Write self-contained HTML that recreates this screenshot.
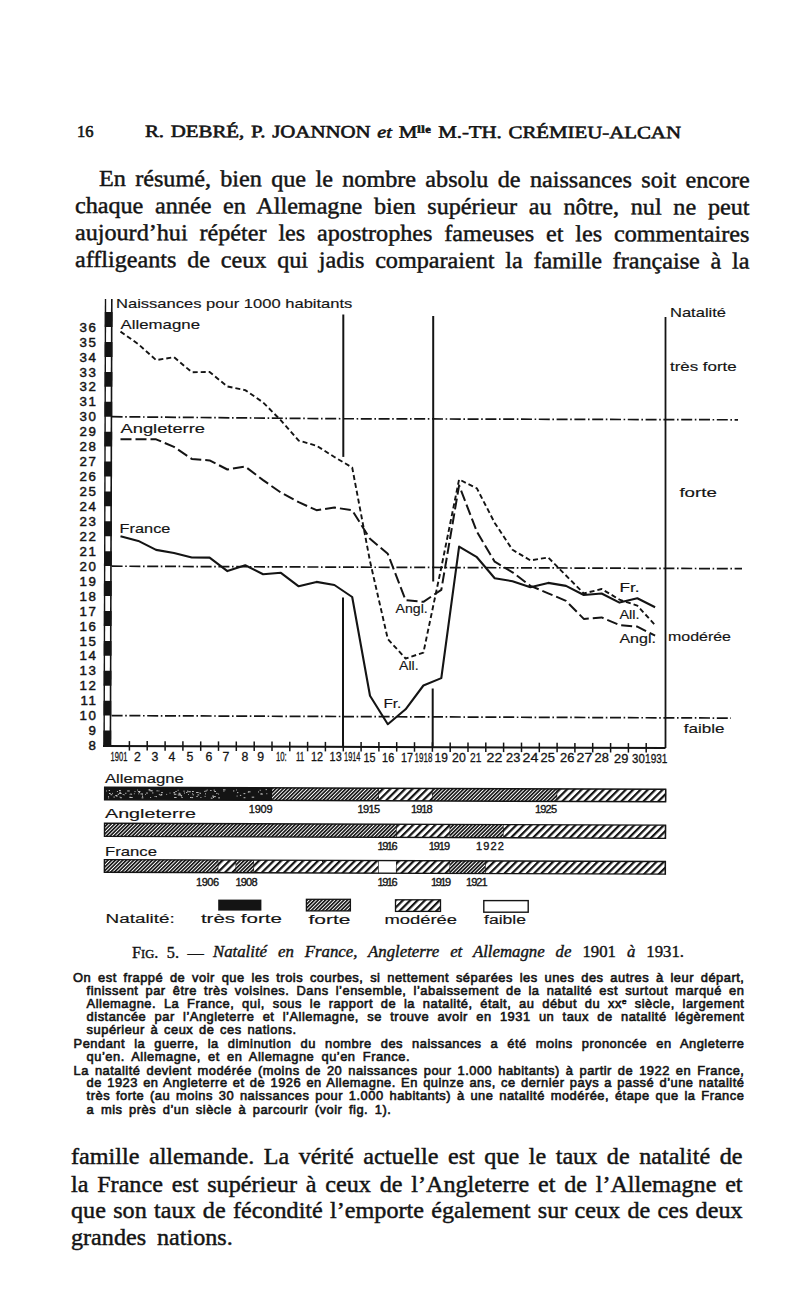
<!DOCTYPE html>
<html><head><meta charset="utf-8"><title>Natalité</title><style>
html,body{margin:0;padding:0;background:#fff;}
body{width:800px;height:1304px;overflow:hidden;position:relative;}
.ln{position:absolute;color:#141414;white-space:nowrap;transform-origin:0 0;}
.serif{font-family:"Liberation Serif",serif;}
.sans{font-family:"Liberation Sans",sans-serif;}
.j{text-align:justify;text-align-last:justify;white-space:normal;overflow:visible;height:1em;}
.hd{font-weight:normal;-webkit-text-stroke:0.6px #141414;}
.hd .sm{font-size:17px;}
.hd sup{font-size:10.5px;vertical-align:baseline;position:relative;top:-5px;font-weight:bold;line-height:0;letter-spacing:0.5px;}
.body{-webkit-text-stroke:0.45px #141414;}
.small{font-weight:normal;-webkit-text-stroke:0.6px #141414;}
.cap{-webkit-text-stroke:0.4px #141414;}
.small sup{font-size:8px;vertical-align:baseline;position:relative;top:-4px;line-height:0;}
svg text{font-family:"Liberation Sans",sans-serif;fill:#141414;}
svg .yl{font-size:13.3px;letter-spacing:1.6px;stroke:#141414;stroke-width:0.45px;}
svg .xl{font-size:12.3px;stroke:#141414;stroke-width:0.3px;}
svg .cl{font-size:13px;stroke:#141414;stroke-width:0.15px;}
svg .bl{font-size:13px;stroke:#141414;stroke-width:0.15px;}
svg .bn{font-size:11px;stroke:#141414;stroke-width:0.35px;}
svg .lg{font-size:12.5px;stroke:#141414;stroke-width:0.15px;}
</style></head>
<body>
<div class="ln serif nj hd" style="left:77px;top:123.68px;width:16.0px;font-size:16.5px;line-height:16.5px;"><span style="letter-spacing:0">16</span></div>
<div class="ln serif j hd" style="left:145px;top:123.34px;width:450.4px;font-size:17.5px;line-height:17.5px;transform:rotate(0.15deg) scaleX(1.19);">R. DEBRÉ, P. JOANNON <i class="sm">et</i> M<sup>lle</sup> M.-TH. CRÉMIEU-ALCAN</div>
<div class="ln serif j body" style="left:98.6px;top:166.74px;width:619.9px;font-size:23px;line-height:23px;transform:rotate(0.14deg) scaleX(1.05);">En résumé, bien que le nombre absolu de naissances soit encore</div>
<div class="ln serif j body" style="left:75.0px;top:193.84px;width:642.4px;font-size:23px;line-height:23px;transform:rotate(0.14deg) scaleX(1.05);">chaque année en Allemagne bien supérieur au nôtre, nul ne peut</div>
<div class="ln serif j body" style="left:75.0px;top:220.74px;width:642.4px;font-size:23px;line-height:23px;transform:rotate(0.14deg) scaleX(1.05);">aujourd’hui répéter les apostrophes fameuses et les commentaires</div>
<div class="ln serif j body" style="left:75.0px;top:247.64px;width:642.4px;font-size:23px;line-height:23px;transform:rotate(0.14deg) scaleX(1.05);">affligeants de ceux qui jadis comparaient la famille française à la</div>
<div class="ln serif j cap" style="left:132px;top:944.65px;width:71.8px;font-size:16.3px;line-height:16.3px;">F<span style="font-size:12.5px">IG</span>. 5. —</div>
<div class="ln serif j cap" style="left:213px;top:944.35px;width:457.3px;font-size:16.3px;line-height:16.3px;transform:scaleX(1.03);"><i>Natalité en France, Angleterre et Allemagne de</i> 1901 <i>à</i> 1931.</div>
<div class="ln sans j small" style="left:73.1px;top:971.78px;width:671.3px;font-size:12.9px;line-height:12.9px;letter-spacing:0.5px;">On est frappé de voir que les trois courbes, si nettement séparées les unes des autres à leur départ,</div>
<div class="ln sans j small" style="left:86.6px;top:984.68px;width:657.8px;font-size:12.9px;line-height:12.9px;letter-spacing:0.5px;">finissent par être très voisines. Dans l’ensemble, l’abaissement de la natalité est surtout marqué en</div>
<div class="ln sans j small" style="left:86.6px;top:997.78px;width:657.8px;font-size:12.9px;line-height:12.9px;letter-spacing:0.5px;">Allemagne. La France, qui, sous le rapport de la natalité, était, au début du xx<sup>e</sup> siècle, largement</div>
<div class="ln sans j small" style="left:86.6px;top:1010.88px;width:657.8px;font-size:12.9px;line-height:12.9px;letter-spacing:0.5px;">distancée par l’Angleterre et l’Allemagne, se trouve avoir en 1931 un taux de natalité légèrement</div>
<div class="ln sans j small" style="left:86.6px;top:1023.98px;width:210.0px;font-size:12.9px;line-height:12.9px;letter-spacing:0.5px;">supérieur à ceux de ces nations.</div>
<div class="ln sans j small" style="left:73.6px;top:1037.88px;width:670.8px;font-size:12.9px;line-height:12.9px;letter-spacing:0.5px;">Pendant la guerre, la diminution du nombre des naissances a été moins prononcée en Angleterre</div>
<div class="ln sans j small" style="left:86.6px;top:1050.98px;width:323.4px;font-size:12.9px;line-height:12.9px;letter-spacing:0.5px;">qu’en. Allemagne, et en Allemagne qu’en France.</div>
<div class="ln sans j small" style="left:73.6px;top:1064.78px;width:670.8px;font-size:12.9px;line-height:12.9px;letter-spacing:0.5px;">La natalité devient modérée (moins de 20 naissances pour 1.000 habitants) à partir de 1922 en France,</div>
<div class="ln sans j small" style="left:86.6px;top:1077.38px;width:657.8px;font-size:12.9px;line-height:12.9px;letter-spacing:0.5px;">de 1923 en Angleterre et de 1926 en Allemagne. En quinze ans, ce dernier pays a passé d’une natalité</div>
<div class="ln sans j small" style="left:86.6px;top:1090.48px;width:657.8px;font-size:12.9px;line-height:12.9px;letter-spacing:0.5px;">très forte (au moins 30 naissances pour 1.000 habitants) à une natalité modérée, étape que la France</div>
<div class="ln sans j small" style="left:86.6px;top:1104.28px;width:304.8px;font-size:12.9px;line-height:12.9px;letter-spacing:0.5px;">a mis près d’un siècle à parcourir (voir fig. 1).</div>
<div class="ln serif j body" style="left:71.0px;top:1145.44px;width:639.6px;font-size:23px;line-height:23px;transform:scaleX(1.05);">famille allemande. La vérité actuelle est que le taux de natalité de</div>
<div class="ln serif j body" style="left:71.0px;top:1172.54px;width:639.6px;font-size:23px;line-height:23px;transform:scaleX(1.05);">la France est supérieur à ceux de l’Angleterre et de l’Allemagne et</div>
<div class="ln serif j body" style="left:71.0px;top:1199.04px;width:639.6px;font-size:23px;line-height:23px;transform:scaleX(1.05);">que son taux de fécondité l’emporte également sur ceux de ces deux</div>
<div class="ln serif j body" style="left:71.0px;top:1225.54px;width:154.1px;font-size:23px;line-height:23px;transform:scaleX(1.05);">grandes nations.</div>
<svg width="800" height="1304" viewBox="0 0 800 1304" style="position:absolute;left:0;top:0"><defs>
<pattern id="pf" patternUnits="userSpaceOnUse" width="2.6" height="2.6" patternTransform="rotate(45)">
<rect width="2.6" height="2.6" fill="#fff"/><rect width="1.65" height="2.6" fill="#141414"/></pattern>
<pattern id="pm" patternUnits="userSpaceOnUse" width="5.2" height="5.2" patternTransform="rotate(45)">
<rect width="5.2" height="5.2" fill="#fff"/><rect width="2.2" height="5.2" fill="#141414"/></pattern>
</defs><g transform="rotate(0.18 107 745.5)">
<line x1="104.10000000000001" y1="299.0" x2="104.10000000000001" y2="746.5" stroke="#141414" stroke-width="1.4"/>
<line x1="110.4" y1="299.0" x2="110.4" y2="746.5" stroke="#141414" stroke-width="1.6"/>
<rect x="103.4" y="730.6" width="7.8" height="14.9" fill="#141414"/>
<rect x="103.4" y="700.7" width="7.8" height="14.9" fill="#141414"/>
<rect x="103.4" y="670.8" width="7.8" height="14.9" fill="#141414"/>
<rect x="103.4" y="640.9" width="7.8" height="14.9" fill="#141414"/>
<rect x="103.4" y="611.0" width="7.8" height="14.9" fill="#141414"/>
<rect x="103.4" y="581.1" width="7.8" height="14.9" fill="#141414"/>
<rect x="103.4" y="551.2" width="7.8" height="14.9" fill="#141414"/>
<rect x="103.4" y="521.3" width="7.8" height="14.9" fill="#141414"/>
<rect x="103.4" y="491.4" width="7.8" height="14.9" fill="#141414"/>
<rect x="103.4" y="461.5" width="7.8" height="14.9" fill="#141414"/>
<rect x="103.4" y="431.7" width="7.8" height="14.9" fill="#141414"/>
<rect x="103.4" y="401.8" width="7.8" height="14.9" fill="#141414"/>
<rect x="103.4" y="371.9" width="7.8" height="14.9" fill="#141414"/>
<rect x="103.4" y="342.0" width="7.8" height="14.9" fill="#141414"/>
<rect x="103.4" y="312.1" width="7.8" height="14.9" fill="#141414"/>
</g>
<text x="97.6" y="750.1" text-anchor="end" class="yl">8</text>
<text x="97.6" y="735.2" text-anchor="end" class="yl">9</text>
<text x="97.6" y="720.2" text-anchor="end" class="yl">10</text>
<text x="97.6" y="705.3" text-anchor="end" class="yl">11</text>
<text x="97.6" y="690.3" text-anchor="end" class="yl">12</text>
<text x="97.6" y="675.4" text-anchor="end" class="yl">13</text>
<text x="97.6" y="660.4" text-anchor="end" class="yl">14</text>
<text x="97.6" y="645.5" text-anchor="end" class="yl">15</text>
<text x="97.6" y="630.5" text-anchor="end" class="yl">16</text>
<text x="97.6" y="615.6" text-anchor="end" class="yl">17</text>
<text x="97.6" y="600.6" text-anchor="end" class="yl">18</text>
<text x="97.6" y="585.7" text-anchor="end" class="yl">19</text>
<text x="97.6" y="570.8" text-anchor="end" class="yl">20</text>
<text x="97.6" y="555.8" text-anchor="end" class="yl">21</text>
<text x="97.6" y="540.9" text-anchor="end" class="yl">22</text>
<text x="97.6" y="525.9" text-anchor="end" class="yl">23</text>
<text x="97.6" y="511.0" text-anchor="end" class="yl">24</text>
<text x="97.6" y="496.0" text-anchor="end" class="yl">25</text>
<text x="97.6" y="481.1" text-anchor="end" class="yl">26</text>
<text x="97.6" y="466.1" text-anchor="end" class="yl">27</text>
<text x="97.6" y="451.2" text-anchor="end" class="yl">28</text>
<text x="97.6" y="436.3" text-anchor="end" class="yl">29</text>
<text x="97.6" y="421.3" text-anchor="end" class="yl">30</text>
<text x="97.6" y="406.4" text-anchor="end" class="yl">31</text>
<text x="97.6" y="391.4" text-anchor="end" class="yl">32</text>
<text x="97.6" y="376.5" text-anchor="end" class="yl">33</text>
<text x="97.6" y="361.5" text-anchor="end" class="yl">34</text>
<text x="97.6" y="346.6" text-anchor="end" class="yl">35</text>
<text x="97.6" y="331.6" text-anchor="end" class="yl">36</text>
<polyline points="103.0,745.9 665.5,748.1" fill="none" stroke="#141414" stroke-width="2"/>
<line x1="129.4" y1="741.1" x2="129.4" y2="750.6" stroke="#141414" stroke-width="1.5"/>
<line x1="147.2" y1="741.1" x2="147.2" y2="750.6" stroke="#141414" stroke-width="1.5"/>
<line x1="165.1" y1="741.2" x2="165.1" y2="750.7" stroke="#141414" stroke-width="1.5"/>
<line x1="182.9" y1="741.3" x2="182.9" y2="750.8" stroke="#141414" stroke-width="1.5"/>
<line x1="200.7" y1="741.4" x2="200.7" y2="750.9" stroke="#141414" stroke-width="1.5"/>
<line x1="218.5" y1="741.4" x2="218.5" y2="750.9" stroke="#141414" stroke-width="1.5"/>
<line x1="236.3" y1="741.5" x2="236.3" y2="751.0" stroke="#141414" stroke-width="1.5"/>
<line x1="254.2" y1="741.6" x2="254.2" y2="751.1" stroke="#141414" stroke-width="1.5"/>
<line x1="272.0" y1="741.6" x2="272.0" y2="751.1" stroke="#141414" stroke-width="1.5"/>
<line x1="289.8" y1="741.7" x2="289.8" y2="751.2" stroke="#141414" stroke-width="1.5"/>
<line x1="307.6" y1="741.8" x2="307.6" y2="751.3" stroke="#141414" stroke-width="1.5"/>
<line x1="325.4" y1="741.9" x2="325.4" y2="751.4" stroke="#141414" stroke-width="1.5"/>
<line x1="343.3" y1="741.9" x2="343.3" y2="751.4" stroke="#141414" stroke-width="1.5"/>
<line x1="361.1" y1="742.0" x2="361.1" y2="751.5" stroke="#141414" stroke-width="1.5"/>
<line x1="378.9" y1="742.1" x2="378.9" y2="751.6" stroke="#141414" stroke-width="1.5"/>
<line x1="396.7" y1="742.1" x2="396.7" y2="751.6" stroke="#141414" stroke-width="1.5"/>
<line x1="414.5" y1="742.2" x2="414.5" y2="751.7" stroke="#141414" stroke-width="1.5"/>
<line x1="432.4" y1="742.3" x2="432.4" y2="751.8" stroke="#141414" stroke-width="1.5"/>
<line x1="450.2" y1="742.4" x2="450.2" y2="751.9" stroke="#141414" stroke-width="1.5"/>
<line x1="468.0" y1="742.4" x2="468.0" y2="751.9" stroke="#141414" stroke-width="1.5"/>
<line x1="485.8" y1="742.5" x2="485.8" y2="752.0" stroke="#141414" stroke-width="1.5"/>
<line x1="503.6" y1="742.6" x2="503.6" y2="752.1" stroke="#141414" stroke-width="1.5"/>
<line x1="521.5" y1="742.6" x2="521.5" y2="752.1" stroke="#141414" stroke-width="1.5"/>
<line x1="539.3" y1="742.7" x2="539.3" y2="752.2" stroke="#141414" stroke-width="1.5"/>
<line x1="557.1" y1="742.8" x2="557.1" y2="752.3" stroke="#141414" stroke-width="1.5"/>
<line x1="574.9" y1="742.9" x2="574.9" y2="752.4" stroke="#141414" stroke-width="1.5"/>
<line x1="592.7" y1="742.9" x2="592.7" y2="752.4" stroke="#141414" stroke-width="1.5"/>
<line x1="610.6" y1="743.0" x2="610.6" y2="752.5" stroke="#141414" stroke-width="1.5"/>
<line x1="628.4" y1="743.1" x2="628.4" y2="752.6" stroke="#141414" stroke-width="1.5"/>
<line x1="646.2" y1="743.1" x2="646.2" y2="752.6" stroke="#141414" stroke-width="1.5"/>
<polyline points="665.5,317.0 665.5,748.1" fill="none" stroke="#141414" stroke-width="1.8"/>
<polyline points="343.3,314.5 343.3,456.9" fill="none" stroke="#141414" stroke-width="2"/>
<polyline points="343.0,597.5 343.0,746.4" fill="none" stroke="#141414" stroke-width="2"/>
<polyline points="433.2,316.0 433.2,581.5" fill="none" stroke="#141414" stroke-width="2"/>
<polyline points="432.7,688.5 432.7,746.8" fill="none" stroke="#141414" stroke-width="2"/>
<polyline points="111.6,416.7 330,418.7 738,419.8" fill="none" stroke="#141414" stroke-width="1.7" stroke-dasharray="11 2.6 1.6 2.6"/>
<polyline points="111.6,566.2 742.0,568.7" fill="none" stroke="#141414" stroke-width="1.7" stroke-dasharray="11 2.6 1.6 2.6"/>
<polyline points="111.6,715.6 731.0,718.1" fill="none" stroke="#141414" stroke-width="1.7" stroke-dasharray="11 2.6 1.6 2.6"/>
<polyline points="120.5,536.3 138.3,540.9 156.1,549.9 174.0,553.0 191.8,557.5 209.6,557.6 227.4,571.1 245.2,565.2 263.1,574.2 280.9,572.8 298.7,586.3 316.5,581.9 334.4,585.0 352.2,597.0 370.0,695.7 387.8,724.2 405.6,709.3 423.4,685.5 441.3,678.1 459.1,546.6 476.9,557.2 494.7,578.2 512.5,581.2 530.4,587.3 548.2,582.9 566.0,585.9 583.8,595.0 601.6,593.5 619.5,602.6 637.3,598.2 655.1,607.2" fill="none" stroke="#141414" stroke-width="2.1" stroke-linejoin="round"/>
<polyline points="120.5,439.2 138.3,439.2 156.1,439.3 174.0,446.9 191.8,458.9 209.6,460.4 227.4,469.5 245.2,466.6 263.1,480.1 280.9,492.6 298.7,502.2 316.5,510.2 334.4,507.5 352.2,510.3 370.0,538.8 387.8,553.8 405.6,600.2 423.4,601.8 441.3,589.9 459.1,485.4 476.9,531.8 494.7,561.7 512.5,572.3 530.4,585.8 548.2,593.3 566.0,600.9 583.8,618.9 601.6,617.4 619.5,625.0 637.3,626.6 655.1,635.6" fill="none" stroke="#141414" stroke-width="2.0" stroke-linejoin="round" stroke-dasharray="11 4"/>
<polyline points="120.5,331.6 138.3,344.1 156.1,360.1 174.0,357.2 191.8,372.2 209.6,372.0 227.4,386.5 245.2,390.1 263.1,402.4 280.9,420.4 298.7,440.6 316.5,445.7 334.4,457.0 352.2,467.5 370.0,561.2 387.8,639.0 405.6,658.5 423.4,652.6 441.3,567.5 459.1,479.4 476.9,488.4 494.7,522.9 512.5,549.8 530.4,560.4 548.2,557.5 566.0,575.5 583.8,593.5 601.6,589.0 619.5,599.6 637.3,605.6 655.1,625.1" fill="none" stroke="#141414" stroke-width="1.9" stroke-linejoin="round" stroke-dasharray="5 3"/>
<text x="110.6" y="760.5" class="xl" textLength="16.8" lengthAdjust="spacingAndGlyphs">1901</text>
<text x="137.5" y="760.6" text-anchor="middle" class="xl">2</text>
<text x="155.0" y="760.7" text-anchor="middle" class="xl">3</text>
<text x="172.0" y="760.7" text-anchor="middle" class="xl">4</text>
<text x="190.0" y="760.8" text-anchor="middle" class="xl">5</text>
<text x="209.0" y="760.9" text-anchor="middle" class="xl">6</text>
<text x="226.0" y="760.9" text-anchor="middle" class="xl">7</text>
<text x="245.0" y="761.0" text-anchor="middle" class="xl">8</text>
<text x="260.6" y="761.1" text-anchor="middle" class="xl">9</text>
<text x="275.9" y="761.2" class="xl" textLength="10.8" lengthAdjust="spacingAndGlyphs">10:</text>
<text x="295.9" y="761.2" class="xl" textLength="8.3" lengthAdjust="spacingAndGlyphs">11</text>
<text x="310.9" y="761.3" class="xl" textLength="12.0" lengthAdjust="spacingAndGlyphs">12</text>
<text x="329.6" y="761.4" class="xl" textLength="12.1" lengthAdjust="spacingAndGlyphs">13</text>
<text x="344.1" y="761.4" class="xl" textLength="16.3" lengthAdjust="spacingAndGlyphs">1914</text>
<text x="363.4" y="761.5" class="xl" textLength="12.0" lengthAdjust="spacingAndGlyphs">15</text>
<text x="382.1" y="761.6" class="xl" textLength="12.1" lengthAdjust="spacingAndGlyphs">16</text>
<text x="400.9" y="761.7" class="xl" textLength="12.0" lengthAdjust="spacingAndGlyphs">17</text>
<text x="414.6" y="761.7" class="xl" textLength="17.8" lengthAdjust="spacingAndGlyphs">1918</text>
<text x="434.6" y="761.8" class="xl" textLength="13.3" lengthAdjust="spacingAndGlyphs">19</text>
<text x="452.1" y="761.9" class="xl" textLength="13.7" lengthAdjust="spacingAndGlyphs">20</text>
<text x="470.1" y="761.9" class="xl" textLength="11.3" lengthAdjust="spacingAndGlyphs">21</text>
<text x="486.6" y="762.0" class="xl" textLength="15.8" lengthAdjust="spacingAndGlyphs">22</text>
<text x="506.1" y="762.1" class="xl" textLength="14.3" lengthAdjust="spacingAndGlyphs">23</text>
<text x="522.6" y="762.2" class="xl" textLength="15.8" lengthAdjust="spacingAndGlyphs">24</text>
<text x="540.6" y="762.2" class="xl" textLength="14.3" lengthAdjust="spacingAndGlyphs">25</text>
<text x="560.1" y="762.3" class="xl" textLength="14.3" lengthAdjust="spacingAndGlyphs">26</text>
<text x="576.6" y="762.4" class="xl" textLength="15.8" lengthAdjust="spacingAndGlyphs">27</text>
<text x="594.6" y="762.4" class="xl" textLength="14.3" lengthAdjust="spacingAndGlyphs">28</text>
<text x="614.1" y="762.5" class="xl" textLength="14.3" lengthAdjust="spacingAndGlyphs">29</text>
<text x="632.1" y="762.6" class="xl" textLength="12.8" lengthAdjust="spacingAndGlyphs">30</text>
<text x="645.1" y="762.6" class="xl" textLength="22.3" lengthAdjust="spacingAndGlyphs">1931</text>
<text x="116" y="307.8" class="cl" textLength="236.4" lengthAdjust="spacingAndGlyphs">Naissances pour 1000 habitants</text>
<text x="120.6" y="328.8" class="cl" textLength="79.4" lengthAdjust="spacingAndGlyphs">Allemagne</text>
<text x="120.5" y="433" class="cl" textLength="84.5" lengthAdjust="spacingAndGlyphs">Angleterre</text>
<text x="119.6" y="533.2" class="cl" textLength="50.8" lengthAdjust="spacingAndGlyphs">France</text>
<text x="670" y="317" class="cl" textLength="56.0" lengthAdjust="spacingAndGlyphs">Natalité</text>
<text x="670" y="371" class="cl" textLength="66.7" lengthAdjust="spacingAndGlyphs">très forte</text>
<text x="679.4" y="497.4" class="cl" textLength="37.4" lengthAdjust="spacingAndGlyphs">forte</text>
<text x="668" y="641.3" class="cl" textLength="63.0" lengthAdjust="spacingAndGlyphs">modérée</text>
<text x="683.8" y="732.8" class="cl" textLength="40.7" lengthAdjust="spacingAndGlyphs">faible</text>
<text x="619.4" y="592" class="cl" textLength="20.1" lengthAdjust="spacingAndGlyphs">Fr.</text>
<text x="619.4" y="619" class="cl" textLength="20.1" lengthAdjust="spacingAndGlyphs">All.</text>
<text x="619.4" y="643" class="cl" textLength="36.6" lengthAdjust="spacingAndGlyphs">Angl.</text>
<text x="395.6" y="612.5" class="cl" textLength="32.2" lengthAdjust="spacingAndGlyphs">Angl.</text>
<text x="399" y="670" class="cl" textLength="19.6" lengthAdjust="spacingAndGlyphs">All.</text>
<text x="383.4" y="708" class="cl" textLength="17.9" lengthAdjust="spacingAndGlyphs">Fr.</text>
<g transform="rotate(0.2 110 830)">
<rect x="104.5" y="787.3" width="167.5" height="12.5" fill="#141414"/>
<line x1="272.0" y1="787.3" x2="272.0" y2="799.8" stroke="#141414" stroke-width="1.2"/>
<rect x="272.0" y="787.3" width="106.9" height="12.5" fill="url(#pf)"/>
<line x1="378.9" y1="787.3" x2="378.9" y2="799.8" stroke="#141414" stroke-width="1.2"/>
<rect x="378.9" y="787.3" width="53.5" height="12.5" fill="url(#pm)"/>
<line x1="432.4" y1="787.3" x2="432.4" y2="799.8" stroke="#141414" stroke-width="1.2"/>
<rect x="432.4" y="787.3" width="124.7" height="12.5" fill="url(#pf)"/>
<line x1="557.1" y1="787.3" x2="557.1" y2="799.8" stroke="#141414" stroke-width="1.2"/>
<rect x="557.1" y="787.3" width="108.4" height="12.5" fill="url(#pm)"/>
<line x1="665.5" y1="787.3" x2="665.5" y2="799.8" stroke="#141414" stroke-width="1.2"/>
<rect x="104.5" y="787.3" width="561.0" height="12.5" fill="none" stroke="#141414" stroke-width="1.4"/>
<rect x="104.5" y="823.2" width="292.2" height="13.199999999999932" fill="url(#pf)"/>
<line x1="396.7" y1="823.2" x2="396.7" y2="836.4" stroke="#141414" stroke-width="1.2"/>
<rect x="396.7" y="823.2" width="53.5" height="13.199999999999932" fill="url(#pm)"/>
<line x1="450.2" y1="823.2" x2="450.2" y2="836.4" stroke="#141414" stroke-width="1.2"/>
<rect x="450.2" y="823.2" width="53.5" height="13.199999999999932" fill="url(#pf)"/>
<line x1="503.6" y1="823.2" x2="503.6" y2="836.4" stroke="#141414" stroke-width="1.2"/>
<rect x="503.6" y="823.2" width="161.9" height="13.199999999999932" fill="url(#pm)"/>
<line x1="665.5" y1="823.2" x2="665.5" y2="836.4" stroke="#141414" stroke-width="1.2"/>
<rect x="104.5" y="823.2" width="561.0" height="13.199999999999932" fill="none" stroke="#141414" stroke-width="1.4"/>
<rect x="104.5" y="859.6" width="114.0" height="12.600000000000023" fill="url(#pf)"/>
<line x1="218.5" y1="859.6" x2="218.5" y2="872.2" stroke="#141414" stroke-width="1.2"/>
<rect x="218.5" y="859.6" width="17.8" height="12.600000000000023" fill="url(#pm)"/>
<line x1="236.3" y1="859.6" x2="236.3" y2="872.2" stroke="#141414" stroke-width="1.2"/>
<rect x="236.3" y="859.6" width="17.8" height="12.600000000000023" fill="url(#pf)"/>
<line x1="254.2" y1="859.6" x2="254.2" y2="872.2" stroke="#141414" stroke-width="1.2"/>
<rect x="254.2" y="859.6" width="124.7" height="12.600000000000023" fill="url(#pm)"/>
<line x1="378.9" y1="859.6" x2="378.9" y2="872.2" stroke="#141414" stroke-width="1.2"/>
<rect x="378.9" y="859.6" width="17.8" height="12.600000000000023" fill="#fff"/>
<line x1="396.7" y1="859.6" x2="396.7" y2="872.2" stroke="#141414" stroke-width="1.2"/>
<rect x="396.7" y="859.6" width="53.5" height="12.600000000000023" fill="url(#pm)"/>
<line x1="450.2" y1="859.6" x2="450.2" y2="872.2" stroke="#141414" stroke-width="1.2"/>
<rect x="450.2" y="859.6" width="35.6" height="12.600000000000023" fill="url(#pf)"/>
<line x1="485.8" y1="859.6" x2="485.8" y2="872.2" stroke="#141414" stroke-width="1.2"/>
<rect x="485.8" y="859.6" width="179.7" height="12.600000000000023" fill="url(#pm)"/>
<line x1="665.5" y1="859.6" x2="665.5" y2="872.2" stroke="#141414" stroke-width="1.2"/>
<rect x="104.5" y="859.6" width="561.0" height="12.600000000000023" fill="none" stroke="#141414" stroke-width="1.4"/>
</g>
<g fill="#fff" opacity="0.8"><rect x="158.5" y="790.5" width="0.8" height="0.9"/><rect x="117.7" y="793.8" width="1.3" height="0.9"/><rect x="200.4" y="797.0" width="1.0" height="0.9"/><rect x="112.1" y="792.9" width="0.8" height="0.9"/><rect x="145.0" y="793.9" width="0.8" height="0.9"/><rect x="142.2" y="794.6" width="0.8" height="0.9"/><rect x="199.5" y="792.6" width="1.0" height="0.9"/><rect x="113.5" y="796.6" width="1.3" height="0.9"/><rect x="173.9" y="793.8" width="2.5" height="0.9"/><rect x="156.0" y="796.2" width="1.0" height="0.9"/><rect x="122.7" y="794.1" width="1.0" height="0.9"/><rect x="166.3" y="793.9" width="0.8" height="0.9"/><rect x="197.4" y="794.5" width="1.8" height="0.9"/><rect x="216.2" y="792.9" width="1.3" height="0.9"/><rect x="181.4" y="797.1" width="1.3" height="0.9"/><rect x="154.6" y="796.0" width="1.0" height="0.9"/><rect x="119.3" y="791.8" width="1.8" height="0.9"/><rect x="247.8" y="791.7" width="0.8" height="0.9"/><rect x="125.1" y="792.8" width="1.3" height="0.9"/><rect x="130.6" y="793.4" width="0.8" height="0.9"/><rect x="196.4" y="796.0" width="1.3" height="0.9"/><rect x="161.1" y="792.2" width="1.8" height="0.9"/><rect x="199.9" y="793.1" width="0.8" height="0.9"/><rect x="213.6" y="789.7" width="1.3" height="0.9"/><rect x="210.8" y="797.7" width="1.8" height="0.9"/><rect x="152.1" y="792.5" width="1.3" height="0.9"/><rect x="109.7" y="793.2" width="1.0" height="0.9"/><rect x="205.0" y="793.4" width="1.0" height="0.9"/><rect x="146.1" y="792.6" width="1.8" height="0.9"/><rect x="119.1" y="793.1" width="2.5" height="0.9"/><rect x="151.0" y="790.4" width="1.8" height="0.9"/><rect x="173.3" y="792.3" width="1.8" height="0.9"/><rect x="134.5" y="791.2" width="1.0" height="0.9"/><rect x="108.0" y="796.3" width="1.0" height="0.9"/><rect x="148.6" y="789.2" width="1.8" height="0.9"/><rect x="192.6" y="794.4" width="1.3" height="0.9"/><rect x="260.4" y="793.6" width="2.5" height="0.9"/><rect x="212.1" y="795.6" width="1.8" height="0.9"/><rect x="251.7" y="796.7" width="2.5" height="0.9"/><rect x="169.6" y="792.6" width="0.8" height="0.9"/><rect x="184.0" y="792.6" width="1.0" height="0.9"/><rect x="116.9" y="791.0" width="1.0" height="0.9"/><rect x="123.8" y="794.4" width="0.8" height="0.9"/><rect x="106.0" y="790.5" width="0.8" height="0.9"/><rect x="259.7" y="789.8" width="1.0" height="0.9"/><rect x="205.5" y="790.5" width="1.3" height="0.9"/><rect x="260.8" y="793.3" width="0.8" height="0.9"/><rect x="243.5" y="793.2" width="1.8" height="0.9"/><rect x="156.5" y="790.4" width="1.3" height="0.9"/><rect x="218.1" y="793.6" width="1.0" height="0.9"/><rect x="129.7" y="793.9" width="0.8" height="0.9"/><rect x="210.2" y="790.0" width="1.3" height="0.9"/><rect x="190.0" y="797.0" width="1.3" height="0.9"/><rect x="142.1" y="796.2" width="1.0" height="0.9"/><rect x="236.6" y="795.6" width="1.0" height="0.9"/><rect x="138.4" y="793.4" width="0.8" height="0.9"/><rect x="266.3" y="793.3" width="1.0" height="0.9"/><rect x="218.2" y="797.4" width="1.8" height="0.9"/><rect x="237.0" y="792.2" width="1.3" height="0.9"/><rect x="119.0" y="790.1" width="1.8" height="0.9"/><rect x="137.9" y="791.0" width="2.5" height="0.9"/><rect x="265.6" y="789.2" width="1.3" height="0.9"/><rect x="213.0" y="797.0" width="1.0" height="0.9"/><rect x="183.4" y="790.7" width="1.3" height="0.9"/><rect x="120.1" y="797.3" width="1.8" height="0.9"/><rect x="181.0" y="795.6" width="0.8" height="0.9"/><rect x="223.4" y="790.7" width="1.0" height="0.9"/><rect x="110.5" y="794.3" width="1.8" height="0.9"/><rect x="239.9" y="794.9" width="1.3" height="0.9"/><rect x="131.3" y="793.9" width="0.8" height="0.9"/><rect x="108.3" y="797.5" width="0.8" height="0.9"/><rect x="191.3" y="797.2" width="1.8" height="0.9"/><rect x="140.5" y="793.5" width="2.5" height="0.9"/><rect x="158.8" y="793.9" width="1.0" height="0.9"/><rect x="115.9" y="795.6" width="1.8" height="0.9"/><rect x="213.3" y="796.2" width="2.5" height="0.9"/><rect x="174.1" y="797.1" width="2.5" height="0.9"/><rect x="127.2" y="790.5" width="2.5" height="0.9"/><rect x="109.0" y="793.0" width="1.0" height="0.9"/><rect x="204.6" y="795.9" width="1.0" height="0.9"/><rect x="133.9" y="793.3" width="0.8" height="0.9"/><rect x="196.1" y="792.0" width="2.5" height="0.9"/><rect x="192.0" y="793.3" width="0.8" height="0.9"/><rect x="137.0" y="789.6" width="0.8" height="0.9"/><rect x="188.2" y="794.0" width="0.8" height="0.9"/><rect x="177.8" y="794.5" width="2.5" height="0.9"/><rect x="204.2" y="790.9" width="1.3" height="0.9"/><rect x="179.3" y="793.8" width="1.8" height="0.9"/><rect x="188.3" y="791.3" width="2.5" height="0.9"/><rect x="248.0" y="791.4" width="2.5" height="0.9"/><rect x="178.5" y="792.8" width="1.8" height="0.9"/><rect x="177.6" y="789.8" width="1.0" height="0.9"/><rect x="175.4" y="791.0" width="1.3" height="0.9"/><rect x="233.0" y="790.5" width="1.3" height="0.9"/><rect x="129.2" y="796.8" width="1.8" height="0.9"/><rect x="141.6" y="797.4" width="1.8" height="0.9"/><rect x="214.2" y="791.1" width="1.8" height="0.9"/><rect x="174.2" y="792.3" width="0.8" height="0.9"/><rect x="223.0" y="789.4" width="2.5" height="0.9"/><rect x="180.3" y="795.2" width="1.8" height="0.9"/><rect x="159.7" y="794.6" width="2.5" height="0.9"/><rect x="150.1" y="797.0" width="1.0" height="0.9"/><rect x="149.8" y="790.3" width="1.8" height="0.9"/><rect x="243.6" y="797.3" width="1.8" height="0.9"/><rect x="130.2" y="797.1" width="2.5" height="0.9"/><rect x="186.1" y="792.0" width="1.3" height="0.9"/><rect x="115.3" y="795.1" width="1.8" height="0.9"/><rect x="108.7" y="790.0" width="1.3" height="0.9"/><rect x="119.6" y="796.6" width="0.8" height="0.9"/><rect x="148.8" y="790.2" width="0.8" height="0.9"/><rect x="160.9" y="794.0" width="1.3" height="0.9"/><rect x="206.7" y="789.6" width="1.0" height="0.9"/><rect x="258.0" y="791.5" width="1.0" height="0.9"/><rect x="138.7" y="791.9" width="1.3" height="0.9"/><rect x="192.0" y="791.0" width="1.8" height="0.9"/><rect x="187.0" y="790.7" width="1.3" height="0.9"/><rect x="236.2" y="789.5" width="0.8" height="0.9"/></g>
<text x="105" y="783" class="bl" textLength="78.8" lengthAdjust="spacingAndGlyphs">Allemagne</text>
<text x="105" y="818" class="bl" textLength="91.0" lengthAdjust="spacingAndGlyphs">Angleterre</text>
<text x="105" y="855.5" class="bl" textLength="52.0" lengthAdjust="spacingAndGlyphs">France</text>
<text x="248.8" y="812.8" class="bn" textLength="23.7" lengthAdjust="spacing">1909</text>
<text x="357.5" y="812.5" class="bn" textLength="22.5" lengthAdjust="spacing">1915</text>
<text x="411" y="812.5" class="bn" textLength="21.5" lengthAdjust="spacing">1918</text>
<text x="535" y="812.5" class="bn" textLength="22.0" lengthAdjust="spacing">1925</text>
<text x="377.5" y="850" class="bn" textLength="20.0" lengthAdjust="spacing">1916</text>
<text x="428.8" y="850" class="bn" textLength="21.2" lengthAdjust="spacing">1919</text>
<text x="476" y="850" class="bn" textLength="27.8" lengthAdjust="spacing">1922</text>
<text x="196" y="885.5" class="bn" textLength="23.0" lengthAdjust="spacing">1906</text>
<text x="235.5" y="885.5" class="bn" textLength="22.0" lengthAdjust="spacing">1908</text>
<text x="377.5" y="886" class="bn" textLength="20.0" lengthAdjust="spacing">1916</text>
<text x="431" y="886" class="bn" textLength="20.0" lengthAdjust="spacing">1919</text>
<text x="466" y="886" class="bn" textLength="21.5" lengthAdjust="spacing">1921</text>
<rect x="218.2" y="899.6" width="43.2" height="11" fill="#141414"/>
<rect x="306.4" y="899.3" width="44" height="11.6" fill="url(#pf)" stroke="#141414" stroke-width="1.3"/>
<rect x="395.5" y="899.8" width="45" height="11.6" fill="url(#pm)" stroke="#141414" stroke-width="1.3"/>
<rect x="483.8" y="900.6" width="44.4" height="11.6" fill="#fff" stroke="#141414" stroke-width="1.4"/>
<text x="105.5" y="923" class="lg" textLength="69.3" lengthAdjust="spacingAndGlyphs">Natalité:</text>
<text x="200.9" y="923" class="lg" textLength="81.1" lengthAdjust="spacingAndGlyphs">très forte</text>
<text x="308.5" y="923.5" class="lg" textLength="42.0" lengthAdjust="spacingAndGlyphs">forte</text>
<text x="384.4" y="923.5" class="lg" textLength="72.6" lengthAdjust="spacingAndGlyphs">modérée</text>
<text x="484" y="923.5" class="lg" textLength="42.0" lengthAdjust="spacingAndGlyphs">faible</text></svg>
</body></html>
